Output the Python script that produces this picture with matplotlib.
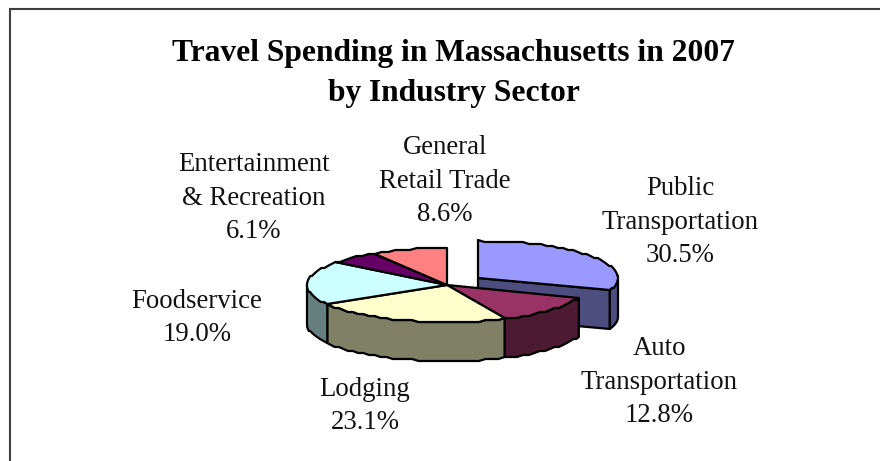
import numpy as np
import matplotlib
matplotlib.use("Agg")
import matplotlib.pyplot as plt
from matplotlib.patches import Polygon

plt.rcParams['font.family'] = ['Liberation Serif', 'DejaVu Serif']

sectors = ["Public Transportation", "Auto Transportation", "Lodging", "Foodservice",
           "Entertainment & Recreation", "General Retail Trade"]
shares = [30.5, 12.8, 23.1, 19.0, 6.1, 8.6]
labels = ["Public\nTransportation\n30.5%", "Auto\nTransportation\n12.8%", "Lodging\n23.1%",
          "Foodservice\n19.0%", "Entertainment\n& Recreation\n6.1%", "General\nRetail Trade\n8.6%"]
top_colors = ["#9999FF", "#993366", "#FFFFCC", "#CCFFFF", "#660066", "#FF8080"]
side_colors = ["#4D4D80", "#4D1A33", "#808066", "#668080", "#330033", "#804040"]
label_pos = [(680, 222), (659, 382), (365, 406), (197, 318), (254, 198), (445, 181)]

cx, cy = 447, 285
a, b = 140, 37
depth = 39
explode = (31, -7)
edge_w = 1.6


def rim(t, dx=0, dy=0):
    # the original's ellipse is slightly stepped, so snap y to a pixel grid
    y = cy + dy - b * np.cos(t)
    y = np.round(y / 2) * 2
    return np.column_stack([cx + dx + a * np.sin(t), y])


def arc(t0, t1):
    n = max(2, int((t1 - t0) * 22))
    return np.linspace(t0, t1, n)


fig = plt.figure(figsize=(8.8, 4.61), dpi=100)
ax = fig.add_axes([0, 0, 1, 1])
ax.set_xlim(0, 880)
ax.set_ylim(461, 0)
ax.axis("off")

# chart frame runs off the right and bottom of the crop
ax.plot([10, 10, 880], [461, 9, 9], color="#404040", lw=1.5, solid_joinstyle="miter")

edges = np.cumsum([0] + shares) / sum(shares) * 2 * np.pi

# sides first, then the tops
for i, (t0, t1) in enumerate(zip(edges[:-1], edges[1:])):
    dx, dy = explode if i == 0 else (0, 0)
    z = 5 if i == 0 else 10
    if i == 0:
        p0 = rim(np.array([t1]), dx, dy)[0]
        c = (cx + dx, cy + dy)
        ax.add_patch(Polygon([c, p0, (p0[0], p0[1] + depth), (c[0], c[1] + depth)], closed=True,
                             fc=side_colors[i], ec="black", lw=edge_w, joinstyle="round", zorder=z))
    lo, hi = max(t0, np.pi / 2), min(t1, 3 * np.pi / 2)
    if lo < hi:
        upper = rim(arc(lo, hi), dx, dy)
        lower = upper[::-1] + [0, depth]
        ax.add_patch(Polygon(np.vstack([upper, lower]), closed=True,
                             fc=side_colors[i], ec="black", lw=edge_w, joinstyle="round", zorder=z))
    pts = np.vstack([[cx + dx, cy + dy], rim(arc(t0, t1), dx, dy)])
    ax.add_patch(Polygon(pts, closed=True, fc=top_colors[i], ec="black", lw=edge_w,
                         joinstyle="round", zorder=z + 1))

ax.text(453.5, 53, "Travel Spending in Massachusetts in 2007", ha="center", va="center",
        fontsize=22.7, fontweight="bold")
ax.text(453.5, 93, "by Industry Sector", ha="center", va="center", fontsize=22.7, fontweight="bold")

for lab, (x, y) in zip(labels, label_pos):
    ax.text(x, y, lab, ha="center", va="center", fontsize=19.3, linespacing=1.44, color="#111111")

fig.savefig("out.png", dpi=100)
